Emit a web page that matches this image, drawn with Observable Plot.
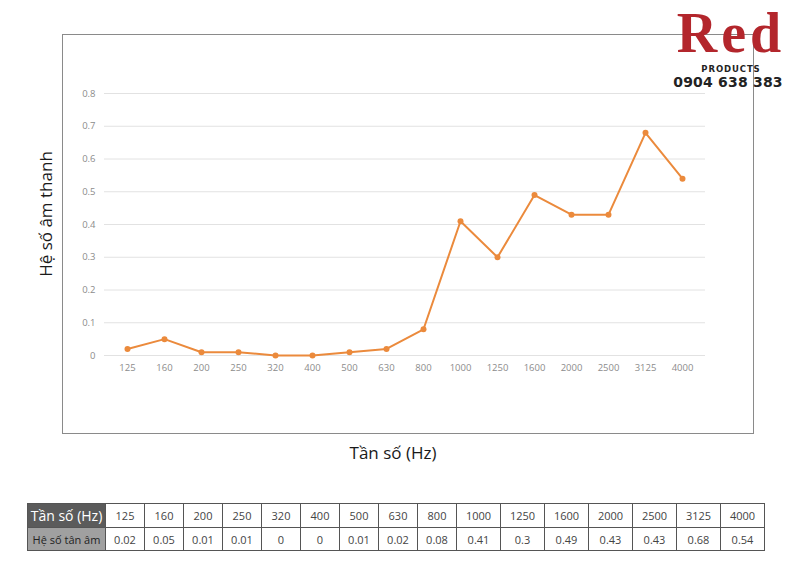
<!DOCTYPE html>
<html>
<head>
<meta charset="utf-8">
<script src="https://cdn.jsdelivr.net/npm/d3@7"></script>
<script src="https://cdn.jsdelivr.net/npm/@observablehq/plot@0.6"></script>
<style>
  html, body { margin: 0; padding: 0; background: #fff; }
  body { width: 800px; height: 579px; position: relative; overflow: hidden; font-family: "Open Sans", sans-serif; }
  #box { position: absolute; left: 62px; top: 34px; width: 690px; height: 398px; border: 1px solid #8a8a8a; }
  #box svg { display: block; }
  #ylabel { position: absolute; left: 45px; top: 214px; transform: translate(-50%, -50%) rotate(-90deg); font-size: 17px; color: #1a1a1a; white-space: nowrap; }
  #xlabel { position: absolute; left: 393px; top: 452px; transform: translate(-50%, -50%); font-size: 17px; color: #1a1a1a; white-space: nowrap; }
  .red { position: absolute; left: 662px; top: 1px; width: 134px; text-align: center; font-family: "Liberation Serif", serif; font-weight: bold; font-size: 56px; color: #b3262c; line-height: normal; letter-spacing: 4px; text-indent: 4px; }
  .prod { position: absolute; left: 700px; top: 65px; width: 62px; text-align: center; font-family: "DejaVu Sans", sans-serif; font-weight: bold; font-size: 8.5px; letter-spacing: 0.9px; color: #222; line-height: 9px; }
  .phone { position: absolute; left: 668px; top: 74px; width: 120px; text-align: center; font-family: "DejaVu Sans", sans-serif; font-weight: bold; font-size: 14px; color: #222; line-height: 17px; letter-spacing: 0.2px; }
  table { position: absolute; left: 27px; top: 503px; border-collapse: collapse; font-family: "Open Sans", sans-serif; table-layout: fixed; }
  td { border: 1px solid #555; text-align: center; color: #444; font-size: 11px; padding: 0; overflow: hidden; white-space: nowrap; }
  tr.r1 td { height: 23px; }
  tr.r2 td { height: 22px; }
  td.h1 { background: #5b5b5b; color: #fff; font-size: 14px; }
  td.h2 { background: #a0a0a0; color: #222; font-size: 11px; }
</style>
</head>
<body>
<div id="box"></div>
<div id="ylabel">Hệ số âm thanh</div>
<div id="xlabel">Tần số (Hz)</div>
<div class="red">Red</div>
<div class="prod">PRODUCTS</div>
<div class="phone">0904 638 383</div>
<table id="tbl"></table>
<script>
const freqs = ["125","160","200","250","320","400","500","630","800","1000","1250","1600","2000","2500","3125","4000"];
const coeffs = [0.02,0.05,0.01,0.01,0,0,0.01,0.02,0.08,0.41,0.3,0.49,0.43,0.43,0.68,0.54];
const yTicks = [0,0.1,0.2,0.3,0.4,0.5,0.6,0.7,0.8];
const rowHeader1 = "Tần số (Hz)";
const rowHeader2 = "Hệ số tân âm";

const data = freqs.map((f, i) => ({f, v: coeffs[i]}));
const orange = "#eb8a3c";

const chart = Plot.plot({
  width: 690,
  height: 398,
  marginLeft: 41,
  marginRight: 48,
  marginTop: 58,
  marginBottom: 78,
  style: { fontFamily: "Open Sans, sans-serif", fontSize: "9.5px", color: "#8c8c8c", background: "transparent" },
  x: { type: "point", domain: freqs, padding: 0.5 },
  y: { domain: [0, 0.8] },
  marks: [
    Plot.gridY(yTicks, { stroke: "#e2e2e2", strokeOpacity: 1, strokeWidth: 1 }),
    Plot.axisY(yTicks, { tickSize: 0, tickPadding: 9, label: null, tickFormat: d => String(+d.toFixed(1)) }),
    Plot.axisX(freqs, { tickSize: 0, tickPadding: 9, label: null }),
    Plot.line(data, { x: "f", y: "v", stroke: orange, strokeWidth: 2 }),
    Plot.dot(data, { x: "f", y: "v", fill: orange, r: 3 })
  ]
});
document.getElementById("box").appendChild(chart);

const tbl = document.getElementById("tbl");
const w = f => (f.length > 3 ? 44 : 39);
const total = 78 + freqs.reduce((s, f) => s + w(f), 0);
tbl.style.width = total + "px";
let cols = `<colgroup><col style="width:78px">` + freqs.map(f => `<col style="width:${w(f)}px">`).join("") + "</colgroup>";
let r1 = `<tr class="r1"><td class="h1">${rowHeader1}</td>` + freqs.map(f => `<td>${f}</td>`).join("") + "</tr>";
let r2 = `<tr class="r2"><td class="h2">${rowHeader2}</td>` + coeffs.map(v => `<td>${v}</td>`).join("") + "</tr>";
tbl.innerHTML = cols + r1 + r2;
</script>
</body>
</html>
